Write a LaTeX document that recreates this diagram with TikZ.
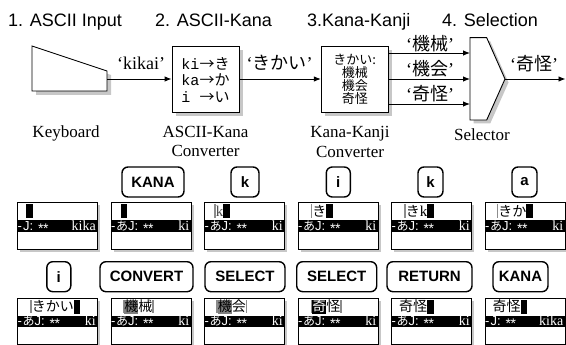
\documentclass[tikz,border=0pt]{standalone}
\usepackage{fontspec}
\setmainfont{Liberation Serif}
\setsansfont{Liberation Sans}
\setmonofont{Liberation Mono}
\newfontfamily\jp{Noto Sans CJK JP}
\usetikzlibrary{arrows.meta}
\definecolor{shd}{gray}{0.78}
\newcommand\fsz[1]{\fontsize{#1}{#1}\selectfont}
\newcommand\fence{\textcolor{black!45}{\rule[-1.5pt]{1.6pt}{13.5pt}}}
\newcommand\curs{\rule[-2pt]{6.5pt}{14pt}}
\newcommand\hlg[1]{\rlap{\textcolor{black!50}{\rule[-2pt]{14pt}{14pt}}}#1}
\newcommand\hlb[1]{\rlap{\rule[-2pt]{14pt}{14pt}}\textcolor{white}{#1}}
\newcommand\stars{\raisebox{-3pt}{\fsz{14}*\kern-0.5pt*}}
\newcommand\mlk{-\kern0.5pt{\jp\fsz{12}あ}J:\kern5pt\stars}
\newcommand\mlp{-\kern1pt J:\kern5pt\stars}
\tikzset{
 title/.style={font=\sffamily\fsz{18},inner sep=0,anchor=base west},
 lbl/.style={font=\fsz{17},inner sep=0,anchor=base},
 qlbl/.style={font=\fsz{18},inner sep=0,anchor=base},
 shapeline/.style={draw,line width=0.9pt,fill=white,line join=miter},
 arr/.style={line width=0.9pt,-{Latex[length=7pt,width=5.5pt]}},
 convbox/.style={draw,line width=0.9pt,fill=white,minimum width=67pt,minimum height=66pt,inner sep=0},
 keycap/.style={draw,line width=1.4pt,rounded corners=6pt,minimum height=30pt,inner sep=0,font=\sffamily\bfseries\fsz{15}},
 screen/.style={draw,line width=0.8pt,fill=white,minimum width=80pt,minimum height=46.5pt,inner sep=0,anchor=north west},
 mode/.style={text=white,inner sep=0,anchor=base west,font=\sffamily\fsz{13}},
 moder/.style={text=white,inner sep=0,anchor=base east,font=\rmfamily\fsz{14}},
 toptext/.style={inner sep=0,anchor=base west,font=\jp\fsz{14}},
}
\newcommand\scr[6]{%
 \begin{scope}[shift={(#2,#3)}]
 \fill[shd] (3,3) rectangle (83,49.5);
 \node[screen] (#1) at (0,0) {};
 \fill (0,18) rectangle (80,29.5);
 \node[mode] (#1-ml) at (0.5,28) {#4};
 \node[moder] (#1-mr) at (79,27.8) {#5};
 \node[toptext] (#1-t) at (0,14) {#6};
 \end{scope}}
\begin{document}
\begin{tikzpicture}[x=1pt,y=-1pt]
\useasboundingbox (0,0) rectangle (566,345);
% titles
\node[title] (t1) at (8,27) {1. ASCII Input};
\node[title] (t2) at (155,27) {2. ASCII-Kana};
\node[title] (t3) at (307,27) {3.Kana-Kanji};
\node[title] (t4) at (442,27) {4. Selection};
% keyboard
\fill[shd] (36,50)--(111,75)--(111,95)--(36,95)--cycle;
\draw[shapeline] (32,46)--(107,71)--(107,91)--(32,91)--cycle;
\coordinate (kbout) at (107,79);
% ASCII-Kana converter
\fill[shd] (175.5,50) rectangle (242.5,116.5);
\node[convbox,font=\ttfamily\fontsize{15}{16.5}\selectfont,align=left] (akc) at (205.5,79.8)
 {ki{\jp →き}\\ka{\jp →か}\\i {\jp →い}};
% Kana-Kanji converter
\fill[shd] (325,50) rectangle (391.5,116.5);
\node[convbox,font=\jp\fontsize{13}{13}\selectfont,align=center] (kkc) at (354.8,79.8)
 {きかい:\\機械\\機会\\奇怪};
% selector
\fill[shd] (473.5,41.2)--(490.2,41.2)--(508.5,82.5)--(490.2,123.5)--(473.5,123.5)--cycle;
\draw[shapeline] (470,37.7)--(486.7,37.7)--(505,79)--(486.7,120)--(470,120)--cycle;
\coordinate (sel1) at (470,53);
\coordinate (sel2) at (470,79);
\coordinate (sel3) at (470,104);
\coordinate (selout) at (505,79);
\coordinate (outend) at (565.5,79);
% connectors
\draw[arr] (kbout) -- (akc.west |- kbout);
\draw[arr] (akc.east |- kbout) -- (kkc.west |- kbout);
\draw[arr] (kkc.east |- sel1) -- (sel1);
\draw[arr] (kkc.east |- sel2) -- (sel2);
\draw[arr] (kkc.east |- sel3) -- (sel3);
\draw[arr] (selout) -- (outend);
% connector labels
\node[qlbl] (l1) at (141,70) {‘kikai’};
\node[qlbl] (l2) at (279.5,70) {‘{\jp きかい}’};
\node[qlbl] (l3) at (430,50.5) {‘{\jp 機械}’};
\node[qlbl] (l4) at (430,75.5) {‘{\jp 機会}’};
\node[qlbl] (l5) at (430,100.5) {‘{\jp 奇怪}’};
\node[qlbl] (l6) at (534,70.5) {‘{\jp 奇怪}’};
% captions
\node[lbl] (c1) at (66,137.5) {Keyboard};
\node[lbl] (c2a) at (205.5,137.5) {ASCII-Kana};
\node[lbl] (c2b) at (205.5,157) {Converter};
\node[lbl] (c3a) at (350,138) {Kana-Kanji};
\node[lbl] (c3b) at (350,157.5) {Converter};
\node[lbl] (c4) at (482,141) {Selector};
% keys row 1
\node[keycap,minimum width=62pt] (k1) at (153,182) {KANA};
\node[keycap,minimum width=28pt] (k2) at (245,182) {k};
\node[keycap,minimum width=24pt] (k3) at (338.3,182) {i};
\node[keycap,minimum width=25pt] (k4) at (430.5,182) {k};
\node[keycap,minimum width=25pt] (k5) at (524.5,182) {a};
% keys row 2
\node[keycap,minimum width=24pt] (k6) at (58.8,276.7) {i};
\node[keycap,minimum width=93pt] (k7) at (146.5,276.7) {CONVERT};
\node[keycap,minimum width=80pt] (k8) at (245,276.7) {SELECT};
\node[keycap,minimum width=80pt] (k9) at (336.7,276.7) {SELECT};
\node[keycap,minimum width=85pt] (k10) at (429.5,276.7) {RETURN};
\node[keycap,minimum width=55pt] (k11) at (520.5,276.7) {KANA};
% screens row 1
\scr{s1}{17}{202.3}{\mlp}{kika}{\hspace*{9pt}\curs}
\scr{s2}{110.5}{202.3}{\mlk}{ki}{\hspace*{10pt}\curs}
\scr{s3}{204}{202.3}{\mlk}{ki}{\hspace*{10pt}\fence{\rmfamily\fsz{15}\textcolor{black!70}{k}}\curs}
\scr{s4}{297.5}{202.3}{\mlk}{ki}{\hspace*{13pt}\fence き\curs}
\scr{s5}{391}{202.3}{\mlk}{ki}{\hspace*{13pt}\fence き{\rmfamily\fsz{15}k}\curs}
\scr{s6}{484.5}{202.3}{\mlk}{ki}{\hspace*{12pt}\fence きか\curs}
% screens row 2
\scr{r1}{17}{297.5}{\mlk}{ki}{\hspace*{13pt}\fence きかい\curs}
\scr{r2}{110.5}{297.5}{\mlk}{ki}{\hspace*{12pt}\fence\hlg{機}械\fence}
\scr{r3}{204}{297.5}{\mlk}{ki}{\hspace*{12pt}\fence\hlg{機}会\fence}
\scr{r4}{297.5}{297.5}{\mlk}{ki}{\hspace*{13pt}\fence\hlb{奇}怪\fence}
\scr{r5}{391}{297.5}{\mlk}{ki}{\hspace*{8pt}奇怪\curs}
\scr{r6}{484.5}{297.5}{\mlp}{kika}{\hspace*{8pt}奇怪\curs}
\end{tikzpicture}
\end{document}
